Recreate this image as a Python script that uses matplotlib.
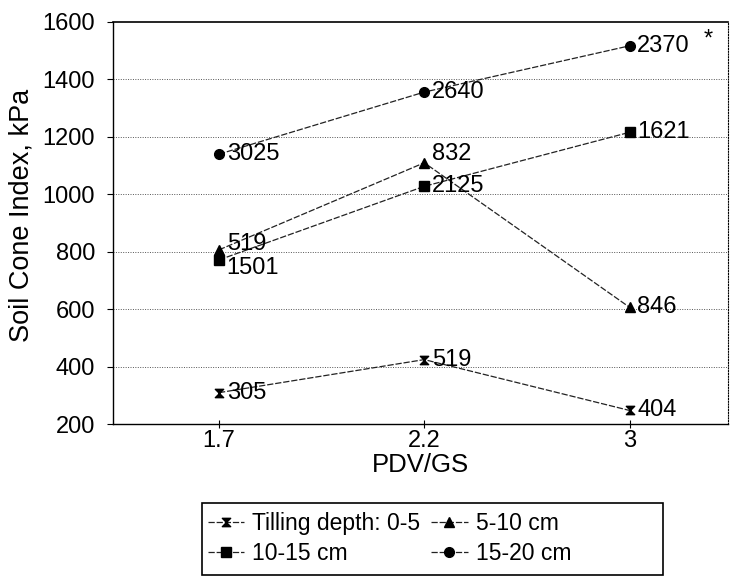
import matplotlib
matplotlib.use("Agg")
import matplotlib.pyplot as plt
from matplotlib.path import Path
from matplotlib.patches import Rectangle

plt.rcParams['font.family'] = ['Liberation Sans', 'DejaVu Sans']

categories = ["1.7", "2.2", "3"]
series_names = ["Tilling depth: 0-5", "5-10 cm", "10-15 cm", "15-20 cm"]
v_0_5 = [310, 425, 248]
v_5_10 = [807, 1110, 607]
v_10_15 = [772, 1028, 1216]
v_15_20 = [1140, 1356, 1517]
lab_0_5 = ["305", "519", "404"]
lab_5_10 = ["519", "832", "846"]
lab_10_15 = ["1501", "2125", "1621"]
lab_15_20 = ["3025", "2640", "2370"]
yticks = [200, 400, 600, 800, 1000, 1200, 1400, 1600]

hourglass = Path([(-1, 1), (1, 1), (-1, -1), (1, -1), (-1, 1)],
                 [Path.MOVETO, Path.LINETO, Path.LINETO, Path.LINETO, Path.CLOSEPOLY])

fig = plt.figure(figsize=(7.31, 5.78), dpi=100)
ax = fig.add_axes([0.155, 0.266, 0.841, 0.696])

x = list(range(len(categories)))
ls = (0, (5, 1.5))
h1, = ax.plot(x, v_0_5, color='#222222', lw=0.9, ls=ls, marker=hourglass, ms=6, mfc='black', mec='black')
h2, = ax.plot(x, v_5_10, color='#222222', lw=0.9, ls=ls, marker='^', ms=7, mfc='black', mec='black')
h3, = ax.plot(x, v_10_15, color='#222222', lw=0.9, ls=ls, marker='s', ms=6.5, mfc='black', mec='black')
h4, = ax.plot(x, v_15_20, color='#222222', lw=0.9, ls=ls, marker='o', ms=7, mfc='black', mec='black')

fs = 17
def annotate(vals, labs, offsets=None):
    for i, (v, l) in enumerate(zip(vals, labs)):
        dy = 0 if offsets is None else offsets[i]
        ax.annotate(l, (i, v), xytext=(5.5, dy), textcoords='offset points',
                    ha='left', va='center', fontsize=fs, color='black')

annotate(v_0_5, lab_0_5)
annotate(v_5_10, lab_5_10, [4, 6, 0])
annotate(v_10_15, lab_10_15, [-6, 0, 0])
annotate(v_15_20, lab_15_20)
ax.text(2.385, 1540, "*", fontsize=17, ha='center', va='center')

ax.set_xlim(-0.515, 2.48)
ax.set_ylim(200, 1600)
ax.set_xticks(x)
ax.set_xticklabels(categories, fontsize=fs)
ax.set_yticks(yticks)
ax.set_yticklabels([str(t) for t in yticks], fontsize=fs)
ax.tick_params(axis='y', direction='out', length=4, width=0.8, pad=9)
ax.tick_params(axis='x', direction='inout', length=6, width=0.8, pad=1)

for t in yticks[1:-1]:
    ax.axhline(t, color='#555555', lw=0.7, ls=(0, (1, 1.5)), zorder=0)

ax.spines['left'].set_linewidth(1.0)
ax.spines['bottom'].set_linewidth(1.0)
ax.spines['top'].set_linewidth(1.2)
ax.spines['right'].set_linestyle((0, (1, 1.5)))
ax.spines['right'].set_linewidth(0.8)

ax.set_ylabel("Soil Cone Index, kPa", fontsize=19.5, labelpad=3)
ax.yaxis.set_label_coords(-0.128, 0.52)
ax.set_xlabel("PDV/GS", fontsize=18.5, labelpad=1)

leg = fig.legend([h1, h3, h2, h4],
                 [series_names[0], series_names[2], series_names[1], series_names[3]],
                 ncol=2, loc='upper left', bbox_to_anchor=(202/731, 1 - 506/578),
                 fontsize=16.5, frameon=False,
                 handlelength=1.6, handletextpad=0.35, columnspacing=0.45,
                 borderpad=0.25, borderaxespad=0, labelspacing=0.3)
fig.patches.append(Rectangle((202/731, 1 - 575/578), (663 - 202)/731, (575 - 503)/578,
                             transform=fig.transFigure, fill=False, edgecolor='black',
                             linewidth=1.2))

fig.savefig("out.png", dpi=100)
